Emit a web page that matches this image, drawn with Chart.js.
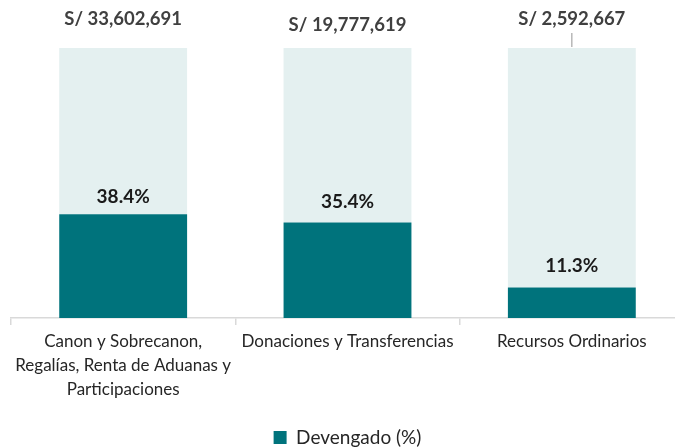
<!DOCTYPE html>
<html>
<head>
<meta charset="utf-8">
<script src="https://cdn.jsdelivr.net/npm/chart.js@4.4.1/dist/chart.umd.min.js"></script>
<style>
  html, body { margin: 0; padding: 0; background: #fff; overflow: hidden; }
  #wrap { width: 692px; height: 448px; position: relative; }
</style>
</head>
<body>
<div id="wrap"><canvas id="c"></canvas></div>
<script>
const categories = [
  ["Canon y Sobrecanon,", "Regalías, Renta de Aduanas y", "Participaciones"],
  "Donaciones y Transferencias",
  "Recursos Ordinarios"
];
const devengadoPct = [38.4, 35.4, 11.3];
const restantePct = [61.6, 64.6, 88.7];
const pimLabels = ["S/ 33,602,691", "S/ 19,777,619", "S/ 2,592,667"];

const TEAL = "#00737C";
const LIGHT = "#E4F0F0";
const FONT = "Lato, 'Open Sans', sans-serif";

// styling offsets for the top amount labels (distance above bar top)
const topLabelGap = [29, 23, 29];
const pctLabelGap = [17, 21, 22];
const leaderLine = [false, false, true];

const labelPlugin = {
  id: "labels",
  afterDatasetsDraw(chart) {
    const ctx = chart.ctx;
    const m0 = chart.getDatasetMeta(0);
    const m1 = chart.getDatasetMeta(1);
    ctx.save();
    ctx.textAlign = "center";
    ctx.textBaseline = "middle";
    m0.data.forEach((bar, i) => {
      ctx.font = "bold 19px " + FONT;
      ctx.fillStyle = "#1a1a1a";
      ctx.fillText(devengadoPct[i].toFixed(1) + "%", bar.x, bar.y - pctLabelGap[i]);
    });
    m1.data.forEach((bar, i) => {
      ctx.font = "bold 18.5px " + FONT;
      ctx.fillStyle = "#404040";
      const ty = bar.y - topLabelGap[i];
      ctx.fillText(pimLabels[i], bar.x, ty);
      if (leaderLine[i]) {
        ctx.strokeStyle = "#a6a6a6";
        ctx.lineWidth = 1.2;
        ctx.beginPath();
        ctx.moveTo(bar.x, ty + 14);
        ctx.lineTo(bar.x, bar.y - 1);
        ctx.stroke();
      }
    });
    ctx.restore();
  }
};

new Chart(document.getElementById("c"), {
  type: "bar",
  data: {
    labels: categories,
    datasets: [
      { label: "Devengado (%)", data: devengadoPct, backgroundColor: TEAL,
        barPercentage: 0.57, categoryPercentage: 1.0 },
      { label: "Restante", data: restantePct, backgroundColor: LIGHT,
        barPercentage: 0.57, categoryPercentage: 1.0 }
    ]
  },
  options: {
    responsive: true,
    maintainAspectRatio: false,
    animation: false,
    layout: { padding: { left: 11, right: 8, top: 48, bottom: -9 } },
    scales: {
      x: {
        stacked: true,
        afterFit(scale) { scale.height += 21; },
        grid: { offset: true, drawOnChartArea: false, drawTicks: true, tickLength: 7, color: "#d9d9d9", lineWidth: 1.5 },
        border: { display: true, color: "#d9d9d9", width: 1.5 },
        ticks: { color: "#262626", font: { family: FONT, size: 17, lineHeight: "24px" }, padding: 5, maxRotation: 0, autoSkip: false }
      },
      y: { stacked: true, display: false, min: 0, max: 100 }
    },
    plugins: {
      legend: {
        position: "bottom",
        labels: {
          filter: (item) => item.datasetIndex === 0,
          color: "#262626",
          font: { family: FONT, size: 19 },
          boxWidth: 13, boxHeight: 13, padding: 0
        }
      },
      tooltip: { enabled: false }
    }
  },
  plugins: [labelPlugin]
});
</script>
</body>
</html>
